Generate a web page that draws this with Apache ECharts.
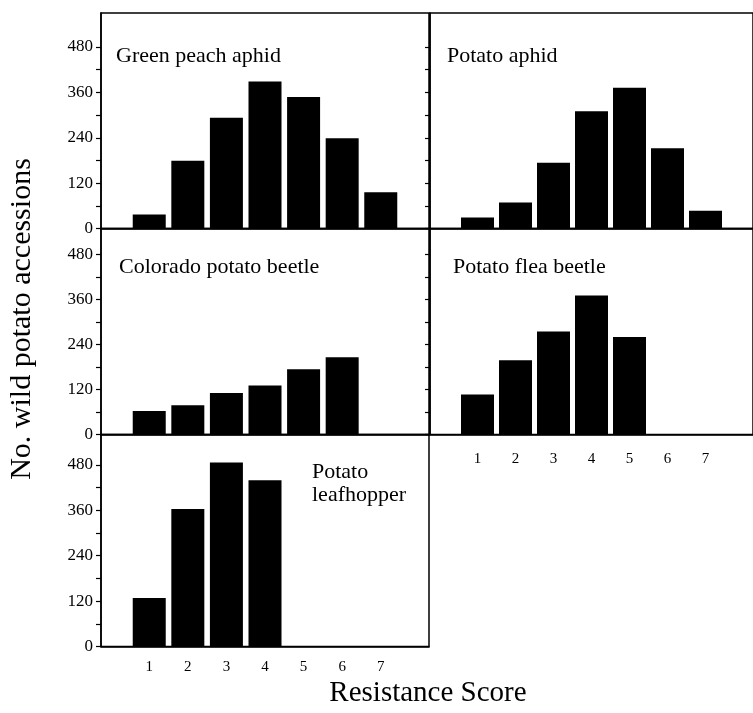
<!DOCTYPE html>
<html>
<head>
<meta charset="utf-8">
<script src="https://cdn.jsdelivr.net/npm/echarts@6/dist/echarts.min.js"></script>
<style>
  html, body { margin:0; padding:0; background:#fff; }
  #main { width:753px; height:713px; }
</style>
</head>
<body>
<div id="main"></div>
<script type="text/javascript">
// resistance scores (x) and y tick labels
var scores = [1, 2, 3, 4, 5, 6, 7];
var yLabels = [0, 120, 240, 360, 480];
var yTicks = [0, 60, 120, 180, 240, 300, 360, 420, 480];

// no. of accessions per score, one array per pest
var greenPeachAphid = [37, 179, 293, 389, 348, 239, 96];
var potatoAphid = [29, 69, 174, 310, 372, 212, 47];
var coloradoBeetle = [63, 78, 111, 131, 174, 206];
var fleaBeetle = [107, 198, 275, 371, 260];
var leafhopper = [128, 363, 486, 439];

var serif = '"Liberation Serif", "Times New Roman", serif';

// panel boxes: left, top, width, height, y max, which labels to draw
var panels = [
    {name:'Green peach aphid', data:greenPeachAphid, left:101, top:13, width:328, height:215.5, max:570, yLab:true, xLab:false, tx:116, ty:45},
    {name:'Potato aphid', data:potatoAphid, left:430, top:13, width:325, height:215.5, max:570, yLab:false, xLab:false, tx:447, ty:45},
    {name:'Colorado potato beetle', data:coloradoBeetle, left:101, top:228.5, width:328, height:206, max:550, yLab:true, xLab:false, tx:119, ty:256},
    {name:'Potato flea beetle', data:fleaBeetle, left:430, top:228.5, width:325, height:206, max:550, yLab:false, xLab:true, tx:453, ty:256},
    {name:'Potato\nleafhopper', data:leafhopper, left:101, top:434.5, width:328, height:212, max:560, yLab:true, xLab:true, tx:312, ty:461}
];

var grids = [], xAxes = [], yAxes = [], series = [], titles = [];
panels.forEach(function(p, i){
    grids.push({
        left:p.left, top:p.top, width:p.width, height:p.height,
        show:true, borderColor:'#000', borderWidth:1.5, backgroundColor:'transparent'
    });
    xAxes.push({
        type:'value', gridIndex:i, min:-0.25, max:8.25,
        axisLine:{show:true, onZero:false, lineStyle:{color:'#000', width:1.5}},
        axisTick:{show:false},
        splitLine:{show:false},
        axisLabel:{
            show:p.xLab, customValues:scores, margin: i == 3 ? 17 : 13,
            color:'#000', fontFamily:serif, fontSize:15
        }
    });
    yAxes.push({
        type:'value', gridIndex:i, min:0, max:p.max,
        axisLine:{show:true, onZero:false, lineStyle:{color:'#000', width:1.5}},
        axisTick:{show:true, customValues:yTicks, length:5, inside:false, lineStyle:{color:'#000', width:1.2}},
        splitLine:{show:false},
        axisLabel:{
            show:p.yLab, customValues:yLabels, margin:8,
            color:'#000', fontFamily:serif, fontSize:17
        }
    });
    series.push({
        type:'bar', xAxisIndex:i, yAxisIndex:i, barWidth:33,
        itemStyle:{color:'#000'},
        data:p.data.map(function(v, k){ return [scores[k], v]; })
    });
    titles.push({
        text:p.name, left:p.tx, top:p.ty, padding:0,
        textStyle:{fontFamily:serif, fontSize:22, fontWeight:'normal', color:'#000', lineHeight:23}
    });
});

var chart = echarts.init(document.getElementById('main'));
chart.setOption({
    animation:false,
    backgroundColor:'#fff',
    title:titles,
    grid:grids,
    xAxis:xAxes,
    yAxis:yAxes,
    series:series,
    graphic:[
        {type:'text', x:22, y:319, rotation:Math.PI/2,
         style:{text:'No. wild potato accessions', fill:'#000', font:'30px ' + serif, align:'center', verticalAlign:'middle'}},
        {type:'text', x:428, y:693,
         style:{text:'Resistance Score', fill:'#000', font:'29px ' + serif, align:'center', verticalAlign:'middle'}}
    ]
});
</script>
</body>
</html>
